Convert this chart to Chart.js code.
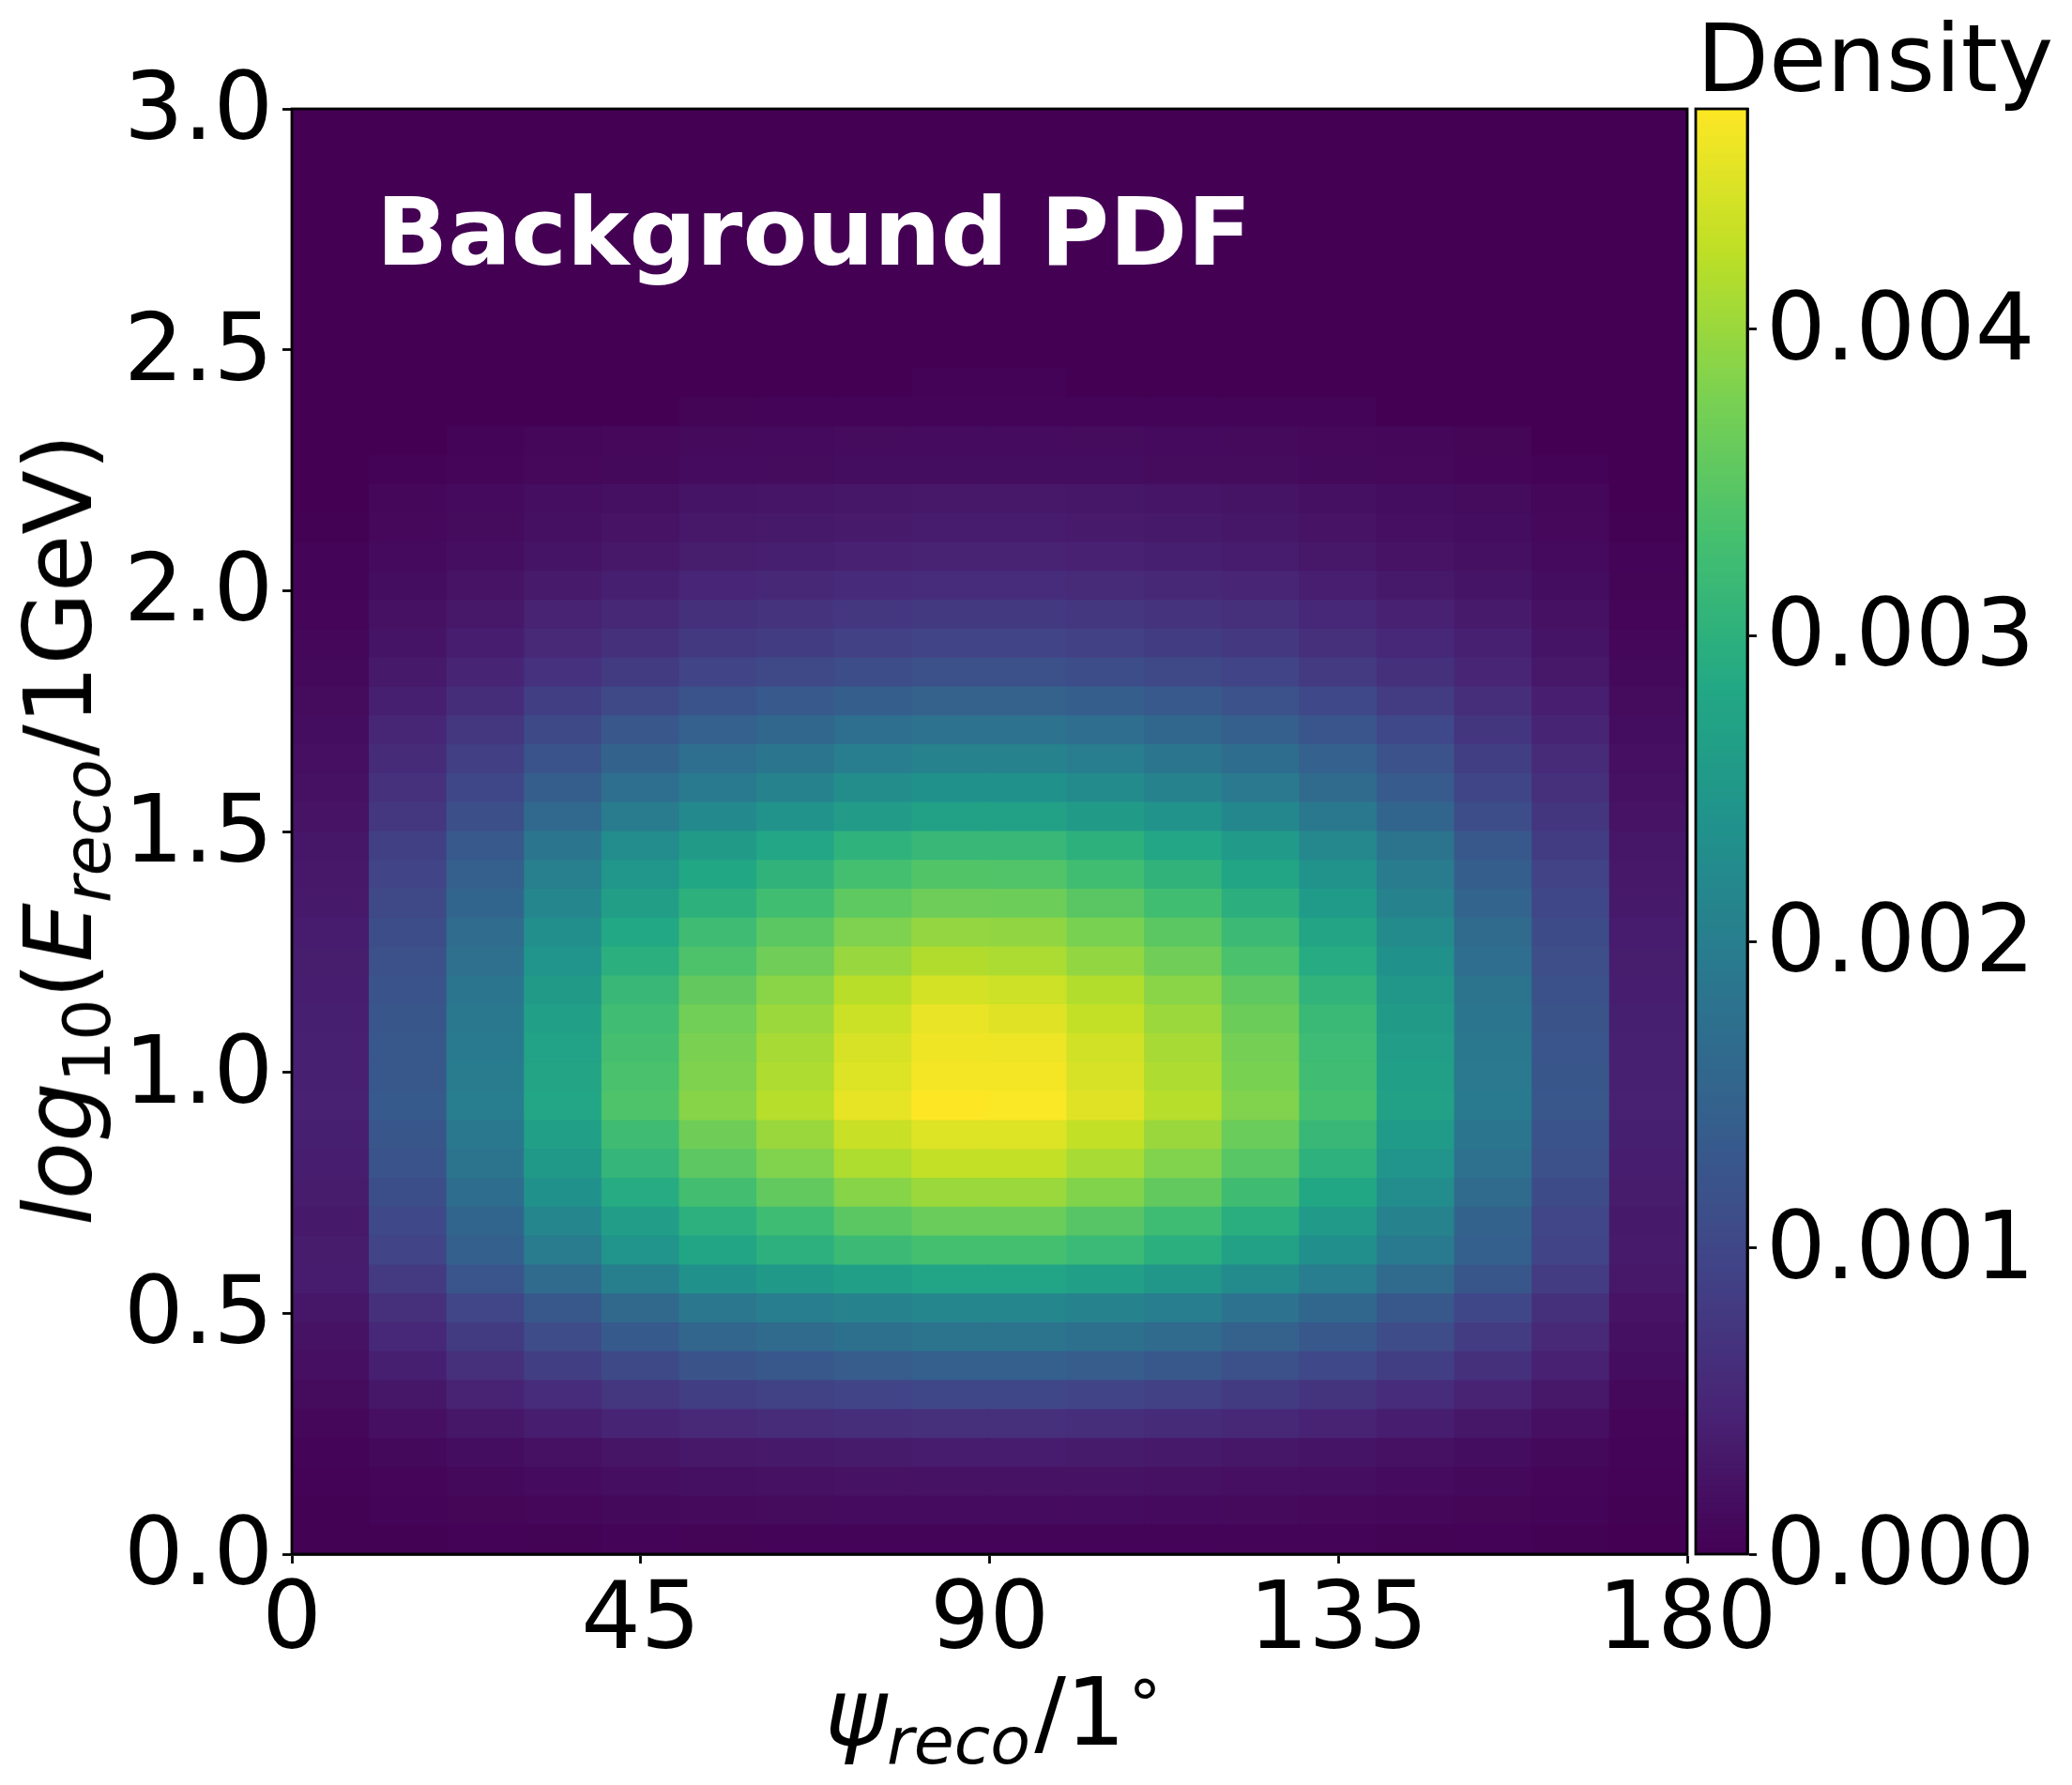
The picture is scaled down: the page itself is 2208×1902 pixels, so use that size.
<!DOCTYPE html>
<html>
<head>
<meta charset="utf-8">
<script src="https://cdn.jsdelivr.net/npm/chart.js@4"></script>
<style>
html,body{margin:0;padding:0;background:#fff;width:2208px;height:1902px;overflow:hidden}
canvas{position:absolute;left:0;top:0}
.t{position:absolute;font-family:"DejaVu Sans";font-size:100px;line-height:120px;white-space:nowrap;color:#000}
.t i{font-style:italic}
.s{font-size:70%;vertical-align:-20px;line-height:0}
.d{font-size:70%;vertical-align:19px;line-height:0;margin-left:3px}
</style>
</head>
<body>
<canvas id="main" width="2208" height="1902"></canvas>
<canvas id="bar" width="2208" height="1902"></canvas>
<div class="t" style="left:401px;top:188px;font-weight:bold;color:#fff;">Background PDF</div>
<div class="t" style="left:1808px;top:3px;">Density</div>
<div class="t" id="xl" style="left:879px;top:1765px;"><i>ψ<span class="s">reco</span></i><span style="margin-left:4px">/1</span><span class="d">°</span></div>
<div class="t" id="yl" style="left:63px;top:884px;transform:translate(-50%,-50%) rotate(-90deg);"><i>log</i><span class="s">10</span>(<i>E<span class="s">reco</span></i><span style="margin-left:3px">/1GeV)</span></div>
<script>
const psiBinStart = [0,10,20,30,40,50,60,70,80,90,100,110,120,130,140,150,160,170];
const psiBinWidth = 10;
const logEBinWidth = 0.06;
const psiTicks = [0,45,90,135,180];
const logETicks = [0,0.5,1,1.5,2,2.5,3];
const densityTicks = [0,0.001,0.002,0.003,0.004];
const densityMax = 0.00472;
// density x 1e-6, first row is logE 0.00-0.06, last row is 2.94-3.00
const densityE6 = [
[7,17,26,34,42,49,52,55,57,57,55,52,47,41,34,26,17,6],
[18,41,63,84,104,120,129,136,140,140,136,127,115,101,84,64,42,15],
[31,68,106,141,174,202,216,228,235,235,228,214,193,169,141,108,71,26],
[46,103,160,213,263,305,327,344,355,355,344,323,291,256,213,163,107,39],
[83,186,288,384,474,550,589,621,640,640,621,582,525,461,384,294,192,70],
[129,287,446,594,733,851,911,960,990,990,960,901,812,713,594,455,297,109],
[184,410,637,849,1047,1217,1302,1373,1415,1415,1373,1288,1160,1019,849,651,425,156],
[233,521,808,1077,1328,1544,1651,1741,1795,1795,1741,1633,1472,1292,1077,826,539,197],
[282,629,977,1302,1606,1866,1996,2105,2170,2170,2105,1975,1779,1562,1302,998,651,239],
[356,795,1233,1644,2028,2356,2521,2658,2740,2740,2658,2493,2247,1973,1644,1260,822,301],
[364,942,1438,1966,2413,2776,2991,3196,3305,3305,3173,2975,2694,2347,1933,1438,942,331],
[327,1018,1527,2145,2617,2981,3235,3508,3635,3635,3471,3235,2944,2545,2072,1490,981,327],
[361,1123,1684,2366,2887,3288,3569,3870,4010,4010,3830,3569,3248,2807,2286,1644,1083,361],
[387,1203,1804,2534,3092,3522,3823,4145,4295,4295,4102,3823,3479,3007,2448,1761,1160,387],
[404,1256,1884,2646,3229,3678,3992,4328,4485,4485,4283,3992,3633,3140,2556,1839,1211,404],
[425,1322,1982,2785,3398,3870,4201,4555,4720,4695,4508,4201,3823,3304,2690,1935,1274,425],
[419,1302,1953,2744,3348,3813,4139,4487,4650,4650,4441,4139,3767,3255,2651,1907,1256,419],
[414,1288,1932,2714,3312,3772,4094,4439,4620,4600,4393,4094,3726,3220,2622,1886,1242,414],
[405,1261,1892,2658,3244,3694,4009,4347,4570,4505,4302,4009,3649,3154,2568,1847,1216,405],
[393,1222,1833,2575,3143,3579,3885,4212,4420,4365,4169,3885,3536,3056,2488,1790,1179,393],
[372,1156,1735,2437,2974,3387,3676,3985,4160,4130,3944,3676,3345,2891,2354,1693,1115,372],
[355,1103,1655,2325,2837,3231,3507,3802,3950,3940,3763,3507,3191,2758,2246,1615,1064,355],
[329,1025,1537,2159,2635,3001,3257,3532,3665,3660,3495,3257,2965,2562,2086,1501,988,329],
[308,958,1436,2018,2462,2804,3044,3300,3425,3420,3266,3044,2770,2394,1949,1402,923,308],
[283,879,1319,1853,2261,2575,2795,3030,3140,3140,2999,2795,2543,2198,1790,1287,848,283],
[242,753,1130,1587,1937,2206,2394,2596,2690,2690,2569,2394,2179,1883,1533,1103,726,242],
[212,661,991,1392,1699,1935,2100,2277,2360,2360,2254,2100,1912,1652,1345,968,637,212],
[187,581,872,1224,1494,1702,1847,2002,2075,2075,1982,1847,1681,1453,1183,851,560,187],
[159,496,743,1044,1274,1451,1575,1708,1770,1770,1690,1575,1434,1239,1009,726,478,159],
[132,410,601,850,1026,1209,1304,1406,1465,1465,1392,1304,1194,1011,820,615,396,132],
[104,323,474,670,809,953,1028,1109,1155,1155,1097,1028,941,797,647,485,312,104],
[85,260,383,539,643,784,846,907,945,945,898,846,775,633,520,416,255,80],
[70,215,316,445,530,647,698,749,780,780,741,698,640,523,429,343,211,66],
[53,162,239,336,401,490,528,566,590,590,561,528,484,395,325,260,159,50],
[41,124,182,257,306,374,403,432,450,450,428,403,369,302,248,198,122,38],
[20,98,144,202,241,295,318,341,355,355,337,318,291,238,195,156,96,20],
[0,84,124,174,207,253,273,293,305,305,290,273,250,204,168,134,82,0],
[0,30,67,94,112,137,148,158,165,165,157,148,135,111,91,73,30,0],
[0,0,57,80,95,116,125,134,140,140,133,125,115,94,77,62,0,0],
[0,0,0,0,0,48,51,55,57,57,54,51,47,36,0,0,0,0],
[0,0,0,0,0,0,0,0,24,24,0,0,0,0,0,0,0,0],
[0,0,0,0,0,0,0,0,0,0,0,0,0,0,0,0,0,0],
[0,0,0,0,0,0,0,0,0,0,0,0,0,0,0,0,0,0],
[0,0,0,0,0,0,0,0,0,0,0,0,0,0,0,0,0,0],
[0,0,0,0,0,0,0,0,0,0,0,0,0,0,0,0,0,0],
[0,0,0,0,0,0,0,0,0,0,0,0,0,0,0,0,0,0],
[0,0,0,0,0,0,0,0,0,0,0,0,0,0,0,0,0,0],
[0,0,0,0,0,0,0,0,0,0,0,0,0,0,0,0,0,0],
[0,0,0,0,0,0,0,0,0,0,0,0,0,0,0,0,0,0],
[0,0,0,0,0,0,0,0,0,0,0,0,0,0,0,0,0,0]
];
const viridisStops = ["#440154","#482475","#414487","#355f8d","#2a788e","#21918c","#22a884","#44bf70","#7ad151","#bddf26","#fde725"];

function hexRgb(h){return [1,3,5].map(i=>parseInt(h.substr(i,2),16));}
const stopsRgb = viridisStops.map(hexRgb);
function viridis(v){
  const t = Math.max(0,Math.min(1,v/densityMax))*(stopsRgb.length-1);
  const i = Math.min(Math.floor(t),stopsRgb.length-2), f = t-i;
  const c = stopsRgb[i].map((a,k)=>Math.round(a+(stopsRgb[i+1][k]-a)*f));
  return `rgb(${c[0]},${c[1]},${c[2]})`;
}
const FONT = {family:'"DejaVu Sans"',size:100};
const frame = {id:'frame',
  beforeDraw(c){
    const s=c.scales.y;
    s.getLabelItems(c.chartArea).forEach(it=>{
      if(!it.shifted){it.options.translation[1]+=6;it.shifted=true;}
    });
  },
  afterDatasetsDraw(c){
    const a=c.chartArea,x=c.ctx;x.save();x.strokeStyle='#000';x.lineWidth=2.8;
    x.strokeRect(a.left,a.top,a.right-a.left,a.bottom-a.top);x.restore();}};
const axisLook = {
  border:{display:true,color:'#000',width:2.8},
  grid:{display:true,offset:false,drawOnChartArea:false,drawTicks:true,tickLength:10,tickWidth:2.8,tickColor:'#000'}
};
Chart.defaults.animation=false;
const rowDatasets = densityE6.map((row,r)=>({
  label:'logE '+(r*logEBinWidth).toFixed(2),
  data:row.map((v,c)=>({x:psiBinStart[c]+psiBinWidth/2,y:[r*logEBinWidth,(r+1)*logEBinWidth],d:v*1e-6})),
  backgroundColor:row.map(v=>viridis(v*1e-6)),
  borderWidth:0,inflateAmount:0.6,
  barPercentage:1,categoryPercentage:1,grouped:false
}));
new Chart(document.getElementById('main'),{
  type:'bar',
  data:{datasets:rowDatasets},
  plugins:[frame],
  options:{
    responsive:false,devicePixelRatio:1,animation:false,
    layout:{padding:{left:0,top:116,right:410,bottom:0}},
    plugins:{legend:{display:false},tooltip:{enabled:false},title:{display:false}},
    scales:{
      x:{type:'linear',offset:false,min:0,max:180,...axisLook,
        afterFit(s){s.height=246;},
        afterBuildTicks(s){s.ticks=psiTicks.map(v=>({value:v}));},
        ticks:{font:FONT,color:'#000',padding:4,maxRotation:0,minRotation:0,autoSkip:false,callback:v=>String(v)}},
      y:{type:'linear',min:0,max:3,...axisLook,
        afterFit(s){s.width=311;},
        afterBuildTicks(s){s.ticks=logETicks.map(v=>({value:v}));},
        ticks:{font:FONT,color:'#000',padding:10,autoSkip:false,callback:v=>v.toFixed(1)}}
    }
  }
});
const cbLevels = 256;
const cbDatasets = [];
for(let i=0;i<cbLevels;i++){
  const a=densityMax*i/cbLevels,b=densityMax*(i+1)/cbLevels;
  cbDatasets.push({data:[[a,b]],backgroundColor:viridis((a+b)/2),borderWidth:0,inflateAmount:0.6,barPercentage:1,categoryPercentage:1,grouped:false});
}
new Chart(document.getElementById('bar'),{
  type:'bar',
  data:{labels:['Density'],datasets:cbDatasets},
  plugins:[frame],
  options:{
    responsive:false,devicePixelRatio:1,animation:false,
    layout:{padding:{left:1807,top:116,right:0,bottom:246}},
    plugins:{legend:{display:false},tooltip:{enabled:false},title:{display:false}},
    scales:{
      x:{display:false},
      y:{type:'linear',position:'right',min:0,max:densityMax,...axisLook,
        afterFit(s){s.width=346;},
        afterBuildTicks(s){s.ticks=densityTicks.map(v=>({value:v}));},
        ticks:{font:FONT,color:'#000',padding:10,autoSkip:false,callback:v=>v.toFixed(3)}}
    }
  }
});
</script>
</body>
</html>
